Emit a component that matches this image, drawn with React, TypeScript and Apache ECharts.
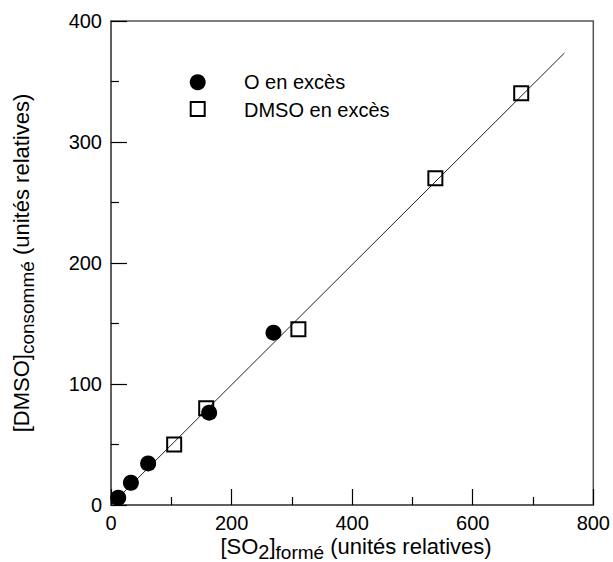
import React, { useEffect, useRef } from "react";
import * as echarts from "echarts";

const FONT = "'Liberation Sans', Arial, Helvetica, sans-serif";

// [SO2] formé, [DMSO] consommé — O en excès
const oExcessX = [12, 33, 61.6, 162.8, 269.5];
const oExcessY = [6, 18.4, 34.4, 76.3, 142.4];
// DMSO en excès
const dmsoExcessX = [104.8, 157.9, 310.8, 538, 680.4];
const dmsoExcessY = [50, 79.9, 145.2, 270, 340.2];
// fitted line end points
const fitX = [0, 752];
const fitY = [0, 373.5];

const seriesNames = ["O en excès", "DMSO en excès"];
const xTitleParts = ["[SO", "2", "]", "formé", " (unités relatives)"];
const yTitleParts = ["[DMSO]", "consommé", " (unités relatives)"];

export default function App() {
  const ref = useRef<HTMLDivElement>(null);
  useEffect(() => {
    if (!ref.current) return;
    const chart = echarts.init(ref.current, null, { renderer: "svg" });
    const rich = {
      m: { fontSize: 22, fontFamily: FONT, color: "#000", lineHeight: 26, verticalAlign: "top" },
      d: { fontSize: 20, fontFamily: FONT, color: "#000", lineHeight: 20, padding: [7, 0, 0, 0], verticalAlign: "top" },
      s: { fontSize: 19, fontFamily: FONT, color: "#000", lineHeight: 20, padding: [8, 0, 0, 0], verticalAlign: "top" },
    };
    const xTitle = `{m|${xTitleParts[0]}}{d|${xTitleParts[1]}}{m|${xTitleParts[2]}}{s|${xTitleParts[3]}}{m|${xTitleParts[4]}}`;
    const yTitle = `{m|${yTitleParts[0]}}{s|${yTitleParts[1]}}{m|${yTitleParts[2]}}`;
    chart.setOption({
      animation: false,
      grid: {
        left: 111,
        top: 21,
        right: 17,
        bottom: 57,
        show: true,
        borderColor: "#555",
        borderWidth: 1.5,
        backgroundColor: "transparent",
      },
      xAxis: {
        type: "value",
        min: 0,
        max: 800,
        interval: 200,
        splitLine: { show: false },
        axisLine: { show: true, lineStyle: { color: "#555", width: 1.5 } },
        axisTick: { show: true, inside: true, length: 16, lineStyle: { color: "#000", width: 1.2 } },
        minorTick: { show: true, splitNumber: 2, length: 8, lineStyle: { color: "#000", width: 1.2 } },
        axisLabel: { color: "#000", fontSize: 20, fontFamily: FONT, margin: 8 },
      },
      yAxis: {
        type: "value",
        min: 0,
        max: 400,
        interval: 100,
        splitLine: { show: false },
        axisLine: { show: true, lineStyle: { color: "#555", width: 1.5 } },
        axisTick: { show: true, inside: true, length: 16, lineStyle: { color: "#000", width: 1.2 } },
        minorTick: { show: true, splitNumber: 2, length: 8, lineStyle: { color: "#000", width: 1.2 } },
        axisLabel: { color: "#000", fontSize: 20, fontFamily: FONT, margin: 9 },
      },
      series: [
        {
          type: "line",
          data: fitX.map((x, i) => [x, fitY[i]]),
          showSymbol: false,
          symbol: "none",
          lineStyle: { color: "#222", width: 1 },
          z: 1,
          silent: true,
        },
        {
          name: seriesNames[1],
          type: "scatter",
          data: dmsoExcessX.map((x, i) => [x, dmsoExcessY[i]]),
          symbol: "rect",
          symbolSize: 14,
          itemStyle: { color: "rgba(255,255,255,0)", borderColor: "#000", borderWidth: 2, opacity: 1 },
          z: 2,
        },
        {
          name: seriesNames[0],
          type: "scatter",
          data: oExcessX.map((x, i) => [x, oExcessY[i]]),
          symbol: "circle",
          symbolSize: 16,
          itemStyle: { color: "#000", opacity: 1 },
          z: 3,
        },
      ],
      graphic: [
        { type: "circle", shape: { cx: 197.7, cy: 82.3, r: 8 }, style: { fill: "#000" } },
        {
          type: "rect",
          shape: { x: 190.7, y: 102, width: 14, height: 14 },
          style: { fill: "#fff", stroke: "#000", lineWidth: 2 },
        },
        {
          type: "text",
          x: 244,
          y: 82,
          style: { text: seriesNames[0], fontSize: 20, fontFamily: FONT, fill: "#000", textVerticalAlign: "middle" },
        },
        {
          type: "text",
          x: 244,
          y: 110,
          style: { text: seriesNames[1], fontSize: 20, fontFamily: FONT, fill: "#000", textVerticalAlign: "middle" },
        },
        {
          type: "text",
          x: 356,
          y: 535,
          style: { text: xTitle, rich, textAlign: "center", textVerticalAlign: "top" },
        },
        {
          type: "text",
          x: 10,
          y: 263,
          rotation: Math.PI / 2,
          style: { text: yTitle, rich, textAlign: "center", textVerticalAlign: "top" },
        },
      ],
    });
    return () => chart.dispose();
  }, []);
  return (
    <div
      ref={ref}
      style={{ position: "fixed", left: 0, top: 0, width: 613, height: 562, background: "#fff" }}
    />
  );
}
